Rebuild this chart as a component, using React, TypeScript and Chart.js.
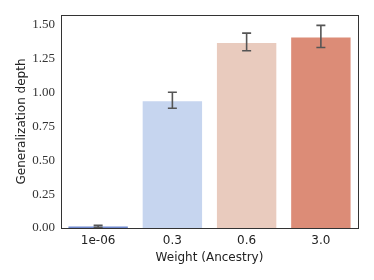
import React, { useEffect, useRef } from "react";
import { Chart, registerables } from "chart.js";

Chart.register(...registerables);

const categories = ["1e-06", "0.3", "0.6", "3.0"];
const values = [0.012, 0.937, 1.367, 1.408];
const errLow = [0.005, 0.885, 1.31, 1.334];
const errHigh = [0.02, 1.003, 1.44, 1.497];
const colors = ["#6f89d0", "#c6d5ef", "#e9cbbe", "#dc8c77"];
const yTicks = [0, 0.25, 0.5, 0.75, 1.0, 1.25, 1.5];

const errorBarPlugin = {
  id: "errorBars",
  afterDatasetsDraw(chart: any) {
    const ctx = chart.ctx;
    const meta = chart.getDatasetMeta(0);
    const y = chart.scales.y;
    ctx.save();
    ctx.strokeStyle = "#555555";
    ctx.lineWidth = 1.6;
    meta.data.forEach((bar: any, i: number) => {
      const x = bar.x;
      const yl = y.getPixelForValue(errLow[i]);
      const yh = y.getPixelForValue(errHigh[i]);
      const cap = 4.5;
      ctx.beginPath();
      ctx.moveTo(x, yl);
      ctx.lineTo(x, yh);
      ctx.moveTo(x - cap, yl);
      ctx.lineTo(x + cap, yl);
      ctx.moveTo(x - cap, yh);
      ctx.lineTo(x + cap, yh);
      ctx.stroke();
    });
    ctx.restore();
  },
};

const framePlugin = {
  id: "frame",
  afterDraw(chart: any) {
    const { ctx, chartArea } = chart;
    ctx.save();
    ctx.strokeStyle = "#333333";
    ctx.lineWidth = 1;
    ctx.strokeRect(
      Math.round(chartArea.left) + 0.5,
      Math.round(chartArea.top) + 0.5,
      Math.round(chartArea.right - chartArea.left),
      Math.round(chartArea.bottom - chartArea.top)
    );
    ctx.restore();
  },
};

export default function App() {
  const ref = useRef<HTMLCanvasElement | null>(null);
  useEffect(() => {
    document.body.style.margin = "0";
    const chart = new Chart(ref.current as HTMLCanvasElement, {
      type: "bar",
      data: {
        labels: categories,
        datasets: [
          {
            data: values,
            backgroundColor: colors,
            borderWidth: 0,
            categoryPercentage: 1,
            barPercentage: 0.8,
          },
        ],
      },
      plugins: [errorBarPlugin, framePlugin],
      options: {
        animation: false,
        responsive: false,
        layout: { padding: { left: 15, top: 15, right: 16, bottom: 15 } },
        plugins: { legend: { display: false }, tooltip: { enabled: false } },
        scales: {
          x: {
            grid: { display: false, drawTicks: false },
            border: { display: false },
            ticks: {
              color: "#222222",
              padding: 6,
              font: { family: "DejaVu Sans", size: 12 },
            },
            title: {
              display: true,
              text: "Weight (Ancestry)",
              color: "#222222",
              font: { family: "DejaVu Sans", size: 12 },
              padding: { top: 2, bottom: 0 },
            },
            afterFit(scale: any) {
              scale.height = 37;
            },
          },
          y: {
            min: 0,
            max: 1.574,
            grid: { display: false, drawTicks: false },
            border: { display: false },
            afterBuildTicks(scale: any) {
              scale.ticks = yTicks.map((v) => ({ value: v }));
            },
            ticks: {
              color: "#333333",
              padding: 6,
              font: { family: "Liberation Serif", size: 13 },
              callback: (v: any) => Number(v).toFixed(2),
            },
            title: {
              display: true,
              text: "Generalization depth",
              color: "#222222",
              font: { family: "DejaVu Sans", size: 12 },
              padding: { top: 0, bottom: 2 },
            },
            afterFit(scale: any) {
              scale.width = 46;
            },
          },
        },
      },
    });
    return () => chart.destroy();
  }, []);
  return (
    <div style={{ width: 374, height: 280 }}>
      <canvas ref={ref} width={374} height={280} />
    </div>
  );
}
